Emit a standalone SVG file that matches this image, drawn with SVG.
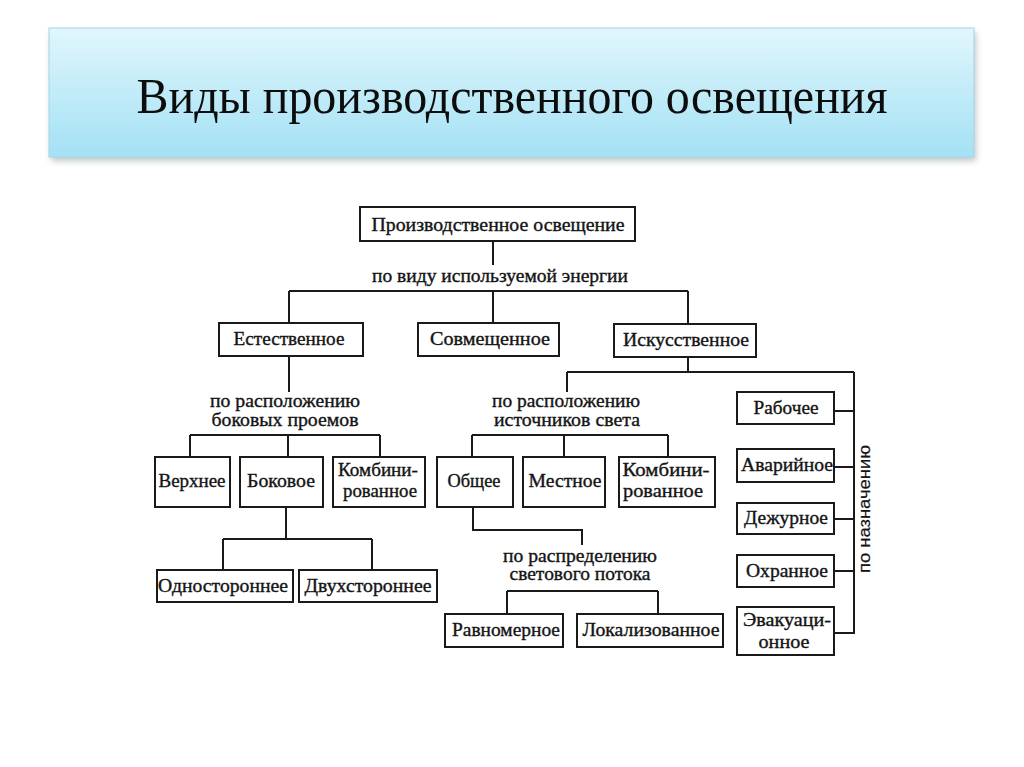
<svg xmlns="http://www.w3.org/2000/svg" width="1024" height="767" viewBox="0 0 1024 767">
<defs>
<linearGradient id="tg" x1="0" y1="0" x2="0" y2="1">
<stop offset="0" stop-color="#e1f6fc"/>
<stop offset="1" stop-color="#a3e1f4"/>
</linearGradient>
<filter id="sh" x="-5%" y="-20%" width="110%" height="150%">
<feGaussianBlur stdDeviation="3"/>
</filter>
</defs>
<style>
.box{fill:#fff;stroke:#1a1a1a;stroke-width:2}
.t{font-family:"Liberation Serif","Times New Roman",serif;font-size:18px;fill:#141414;stroke:#141414;stroke-width:0.35;text-anchor:middle}
.c{fill:none;stroke:#1a1a1a;stroke-width:2}
</style>
<rect width="1024" height="767" fill="#fff"/>
<g id="title">
<rect x="51" y="32" width="925" height="129" fill="#8a9aa0" opacity="0.55" filter="url(#sh)"/>
<rect x="49" y="28" width="925" height="129" fill="url(#tg)" stroke="#a6d5e3" stroke-width="1"/>
<text x="512" y="113" font-family="'Liberation Serif','Times New Roman',serif" font-size="50" fill="#0d0d0d" text-anchor="middle" textLength="751" lengthAdjust="spacingAndGlyphs">Виды производственного освещения</text>
</g>
<g id="connectors">
<path class="c" d="M493,241V265"/>
<path class="c" d="M289,291H688M289,291V323M493,291V323M688,291V324"/>
<path class="c" d="M289,356V392"/>
<path class="c" d="M190,435H380M190,435V457M288,435V457M380,435V457"/>
<path class="c" d="M286,507V539M223,539H372M223,539V570M372,539V570"/>
<path class="c" d="M688,357V372M567,372H854M567,372V392M854,372V634"/>
<path class="c" d="M834,411H854M834,467H854M834,519H854M834,571H854M834,633H855"/>
<path class="c" d="M472,435H668M472,435V457M564,435V457M668,435V457"/>
<path class="c" d="M473,507V530H582V545"/>
<path class="c" d="M507,591H658M507,591V614M658,591V614"/>
</g>
<g id="labels">
<text class="t" x="500" y="282" textLength="256" lengthAdjust="spacingAndGlyphs">по виду используемой энергии</text>
<text class="t" x="285" y="407" textLength="150" lengthAdjust="spacingAndGlyphs">по расположению</text>
<text class="t" x="285" y="426" textLength="147" lengthAdjust="spacingAndGlyphs">боковых проемов</text>
<text class="t" x="566" y="407" textLength="148" lengthAdjust="spacingAndGlyphs">по расположению</text>
<text class="t" x="567" y="426" textLength="146" lengthAdjust="spacingAndGlyphs">источников света</text>
<text class="t" x="580" y="562" textLength="154" lengthAdjust="spacingAndGlyphs">по распределению</text>
<text class="t" x="580" y="580" textLength="141" lengthAdjust="spacingAndGlyphs">светового потока</text>
<text transform="translate(870,509) rotate(-90)" font-family="'Liberation Sans',Arial,sans-serif" font-size="16" fill="#141414" stroke="#141414" stroke-width="0.2" text-anchor="middle" textLength="128" lengthAdjust="spacingAndGlyphs">по назначению</text>
</g>
<g id="n-root"><rect class="box" x="360" y="207" width="275" height="34"/><text class="t" x="498" y="231" textLength="253" lengthAdjust="spacingAndGlyphs">Производственное освещение</text></g>
<g id="n-estestv"><rect class="box" x="219" y="323" width="144" height="33"/><text class="t" x="289" y="345" textLength="111" lengthAdjust="spacingAndGlyphs">Естественное</text></g>
<g id="n-sovm"><rect class="box" x="418" y="323" width="141" height="33"/><text class="t" x="490" y="345" textLength="120" lengthAdjust="spacingAndGlyphs">Совмещенное</text></g>
<g id="n-iskus"><rect class="box" x="614" y="324" width="142" height="33"/><text class="t" x="686" y="346" textLength="126" lengthAdjust="spacingAndGlyphs">Искусственное</text></g>
<g id="n-verh"><rect class="box" x="155" y="457" width="75" height="50"/><text class="t" x="192" y="487" textLength="67" lengthAdjust="spacingAndGlyphs">Верхнее</text></g>
<g id="n-bok"><rect class="box" x="240" y="457" width="83" height="50"/><text class="t" x="281" y="487" textLength="68" lengthAdjust="spacingAndGlyphs">Боковое</text></g>
<g id="n-komb1"><rect class="box" x="333" y="457" width="92" height="50"/><text class="t" x="378" y="476" textLength="80" lengthAdjust="spacingAndGlyphs">Комбини-</text><text class="t" x="380" y="497" textLength="74" lengthAdjust="spacingAndGlyphs">рованное</text></g>
<g id="n-odno"><rect class="box" x="157" y="570" width="136" height="32"/><text class="t" x="223" y="592" textLength="130" lengthAdjust="spacingAndGlyphs">Одностороннее</text></g>
<g id="n-dvuh"><rect class="box" x="299" y="570" width="138" height="32"/><text class="t" x="368" y="592" textLength="127" lengthAdjust="spacingAndGlyphs">Двухстороннее</text></g>
<g id="n-obsh"><rect class="box" x="437" y="457" width="76" height="50"/><text class="t" x="474" y="487" textLength="53" lengthAdjust="spacingAndGlyphs">Общее</text></g>
<g id="n-mest"><rect class="box" x="523" y="457" width="82" height="50"/><text class="t" x="565" y="487" textLength="73" lengthAdjust="spacingAndGlyphs">Местное</text></g>
<g id="n-komb2"><rect class="box" x="619" y="457" width="96" height="50"/><text class="t" x="666" y="476" textLength="87" lengthAdjust="spacingAndGlyphs">Комбини-</text><text class="t" x="663" y="497" textLength="80" lengthAdjust="spacingAndGlyphs">рованное</text></g>
<g id="n-ravn"><rect class="box" x="445" y="614" width="118" height="33"/><text class="t" x="506" y="636" textLength="108" lengthAdjust="spacingAndGlyphs">Равномерное</text></g>
<g id="n-lokal"><rect class="box" x="577" y="614" width="146" height="33"/><text class="t" x="651" y="636" textLength="137" lengthAdjust="spacingAndGlyphs">Локализованное</text></g>
<g id="n-rab"><rect class="box" x="737" y="392" width="97" height="32"/><text class="t" x="786" y="414" textLength="65" lengthAdjust="spacingAndGlyphs">Рабочее</text></g>
<g id="n-avar"><rect class="box" x="737" y="449" width="97" height="33"/><text class="t" x="787" y="471" textLength="92" lengthAdjust="spacingAndGlyphs">Аварийное</text></g>
<g id="n-dezh"><rect class="box" x="737" y="503" width="97" height="31"/><text class="t" x="786" y="524" textLength="84" lengthAdjust="spacingAndGlyphs">Дежурное</text></g>
<g id="n-ohr"><rect class="box" x="737" y="555" width="97" height="32"/><text class="t" x="787" y="577" textLength="82" lengthAdjust="spacingAndGlyphs">Охранное</text></g>
<g id="n-evak"><rect class="box" x="737" y="607" width="97" height="48"/><text class="t" x="787" y="626" textLength="88" lengthAdjust="spacingAndGlyphs">Эвакуаци-</text><text class="t" x="784" y="648" textLength="51" lengthAdjust="spacingAndGlyphs">онное</text></g>
</svg>
